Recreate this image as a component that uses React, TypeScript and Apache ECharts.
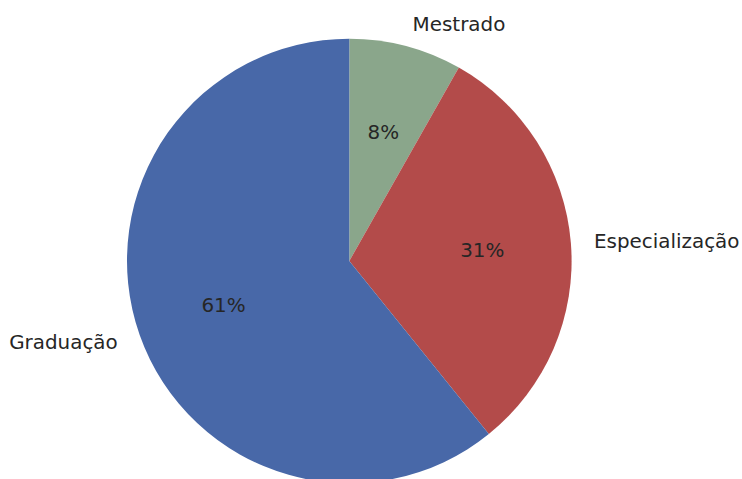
import React, { useEffect, useRef } from "react";
import * as echarts from "echarts";

const categories = ["Mestrado", "Especialização", "Graduação"];
const values = [8.2, 31.0, 60.8];
const colors = ["#8aa68b", "#b34b4a", "#4868a8"];

const CX = 349.3;
const CY = 261;
const R = 222.3;
const FONT = "DejaVu Sans";
const FS = 19.9;
const TXT = "#262626";

export default function App() {
  const ref = useRef<HTMLDivElement>(null);
  useEffect(() => {
    document.body.style.margin = "0";
    const chart = echarts.init(ref.current!, null, { renderer: "svg" });
    const data = categories.map((name, i) => ({
      name,
      value: values[i],
      itemStyle: { color: colors[i] },
    }));
    chart.setOption({
      animation: false,
      backgroundColor: "#ffffff",
      series: [
        {
          type: "pie",
          center: [CX, CY],
          radius: [0, R],
          startAngle: 90,
          clockwise: true,
          avoidLabelOverlap: false,
          silent: true,
          data,
          itemStyle: { borderWidth: 0 },
          label: {
            show: true,
            position: "outside",
            formatter: "{b}",
            fontFamily: FONT,
            fontSize: FS,
            color: TXT,
            distanceToLabelLine: 1,
          },
          labelLine: { show: false, length: R * 0.1, length2: 0 },
          emphasis: { disabled: true },
        },
        {
          type: "pie",
          center: [CX, CY],
          radius: [0, R * 1.2 - 6],
          startAngle: 90,
          clockwise: true,
          avoidLabelOverlap: false,
          silent: true,
          data: categories.map((name, i) => ({
            name,
            value: values[i],
            itemStyle: { color: "rgba(0,0,0,0)" },
          })),
          label: {
            show: true,
            position: "inside",
            formatter: (p: any) => Math.round(p.percent) + "%",
            fontFamily: FONT,
            fontSize: FS,
            color: TXT,
          },
          labelLine: { show: false },
          emphasis: { disabled: true },
        },
      ],
    });
    return () => chart.dispose();
  }, []);
  return <div ref={ref} style={{ width: 742, height: 479 }} />;
}
